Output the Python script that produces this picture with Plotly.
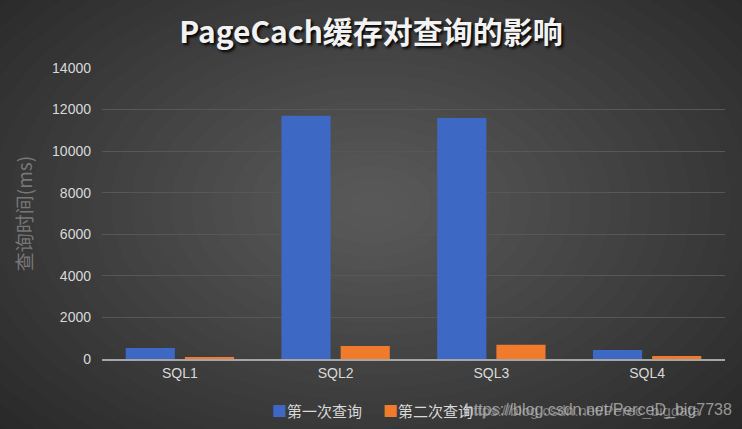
import plotly.graph_objects as go

categories = ["SQL1", "SQL2", "SQL3", "SQL4"]
first_query = [530, 11700, 11600, 430]
second_query = [50, 630, 690, 150]
series_names = ["第一次查询", "第二次查询"]
series_colors = ["#3d69c5", "#f07b2c"]
y_ticks = [0, 2000, 4000, 6000, 8000, 10000, 12000, 14000]

W, H = 742, 429
L, R, T, B = 102, 17, 68, 70
pw, ph = W - L - R, H - T - B


def px_to_paper(x, y):
    return (x - L) / pw, (H - B - y) / ph


fig = go.Figure()
for name, vals, col in zip(series_names, [first_query, second_query], series_colors):
    fig.add_trace(go.Bar(x=categories, y=vals, name=name,
                         marker=dict(color=col, line_width=0)))

# fake radial gradient background with stacked ellipses
shapes = []
n = 26
cx, cy = 371, 205
for i in range(n):
    f = 1 - i / n
    rx, ry = 520 * f, 340 * f
    x0, y0 = px_to_paper(cx - rx, cy + ry)
    x1, y1 = px_to_paper(cx + rx, cy - ry)
    shapes.append(dict(type="circle", xref="paper", yref="paper",
                       x0=x0, y0=y0, x1=x1, y1=y1, layer="below",
                       fillcolor="rgba(255,255,255,0.011)", line_width=0))

# legend drawn as text so the square sits right next to the label
legend_y = px_to_paper(0, 410)[1]
annotations = [
    dict(text=f"<span style='color:{series_colors[0]}'>■</span>{series_names[0]}",
         x=px_to_paper(270, 0)[0], y=legend_y),
    dict(text=f"<span style='color:{series_colors[1]}'>■</span>{series_names[1]}",
         x=px_to_paper(381, 0)[0], y=legend_y),
]
for a in annotations:
    a.update(xref="paper", yref="paper", xanchor="left", yanchor="middle", showarrow=False,
             font=dict(size=15, color="#d9d9d9", family="Noto Sans CJK SC"))

# overlapping watermark
for txt, op, sz in [("https://blog.csdn.net/PerceD_big7738", 0.7, 16),
                    ("https://blog.csdn.net/Perec_bigdata", 0.5, 15)]:
    annotations.append(dict(text=txt, xref="paper", yref="paper",
                            x=px_to_paper(463, 0)[0], y=legend_y, xanchor="left",
                            yanchor="middle", showarrow=False,
                            font=dict(size=sz, color=f"rgba(200,200,200,{op})",
                                      family="Liberation Sans")))

fig.update_layout(
    width=W, height=H,
    margin=dict(l=L, r=R, t=T, b=B),
    paper_bgcolor="#262626",
    plot_bgcolor="rgba(0,0,0,0)",
    shapes=shapes,
    annotations=annotations,
    showlegend=False,
    barmode="group", bargap=0.24, bargroupgap=0.17,
    font=dict(family="Liberation Sans, Noto Sans CJK SC", color="#d9d9d9", size=13),
    title=dict(text="<b>PageCach缓存对查询的影响</b>", x=0.5, xref="container",
               y=1 - 32 / H, yanchor="middle",
               font=dict(family="Noto Sans CJK SC", size=30, color="#f2f2f2",
                         shadow="2px 2px 3px #000")),
    xaxis=dict(showgrid=False, showline=True, linecolor="#a6a6a6", linewidth=2,
               ticks="", tickfont=dict(size=14, color="#d9d9d9"), fixedrange=True),
    yaxis=dict(range=[0, 14000], tickvals=y_ticks, tickformat="d", showgrid=True,
               gridcolor="#575757", gridwidth=1, zeroline=False, ticks="",
               ticklabelstandoff=10, tickfont=dict(size=14, color="#d9d9d9"),
               title=dict(text="查询时间(ms)", standoff=14,
                          font=dict(size=19, color="#777777", family="Noto Sans CJK SC"))),
)

fig.write_html("out.html", config={"displayModeBar": False},
               post_script="document.body.style.margin='0';")
